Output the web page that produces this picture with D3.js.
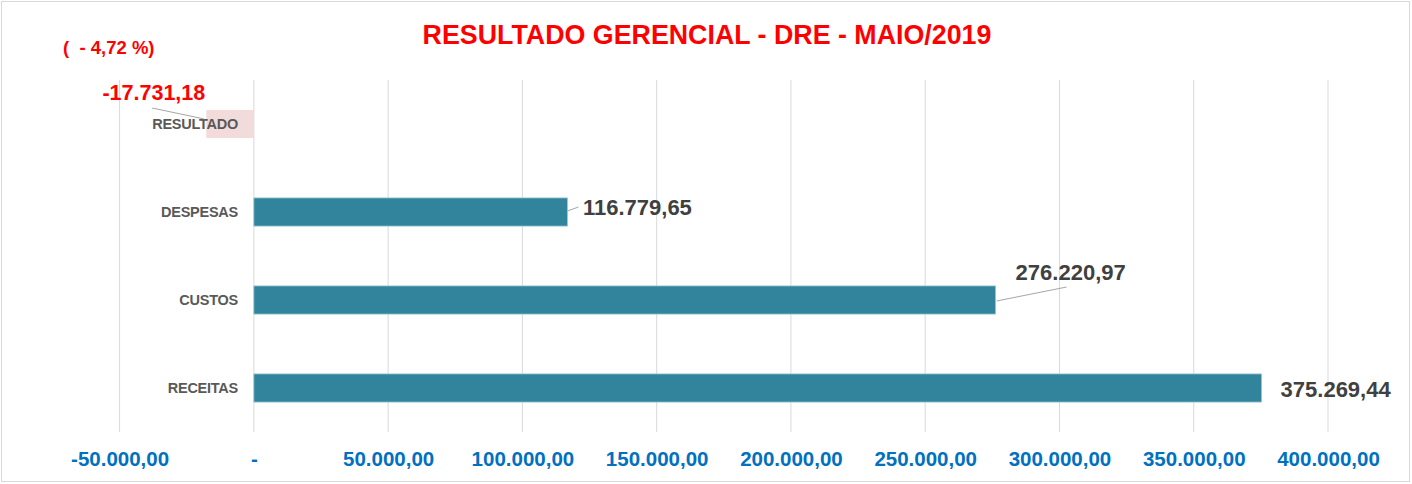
<!DOCTYPE html>
<html>
<head>
<meta charset="utf-8">
<script src="https://cdn.jsdelivr.net/npm/d3@7"></script>
<style>
  html, body { margin: 0; padding: 0; background: #fff; }
  svg { display: block; font-family: "Liberation Sans", Arial, sans-serif; }
</style>
</head>
<body>
<div id="chart"></div>
<script>
// Data
const categories = ["RESULTADO", "DESPESAS", "CUSTOS", "RECEITAS"];
const values = [-17731.18, 116779.65, 276220.97, 375269.44];
const tickValues = [-50000, 0, 50000, 100000, 150000, 200000, 250000, 300000, 350000, 400000];
const resultPercent = -4.72;
const titleText = "RESULTADO GERENCIAL - DRE - MAIO/2019";

const width = 1412, height = 484;

// pt-BR number format, plain hyphen for negatives
const br = d3.formatLocale({ decimal: ",", thousands: ".", grouping: [3], currency: ["R$", ""], minus: "-" });
const fmt = br.format(",.2f");

const svg = d3.select("#chart").append("svg")
    .attr("width", width)
    .attr("height", height);

// chart border
svg.append("rect")
    .attr("x", 1.5).attr("y", 1.5)
    .attr("width", width - 4).attr("height", height - 4)
    .attr("fill", "#fff")
    .attr("stroke", "#d9d9d9");

// scales
const x = d3.scaleLinear().domain([-50000, 400000]).range([119.6, 1328]);
const y = d3.scaleBand().domain(categories).range([80, 432])
    .paddingInner(0.68).paddingOuter(0.34);

// gridlines
svg.append("g").selectAll("line")
    .data(tickValues).enter().append("line")
    .attr("x1", d => x(d)).attr("x2", d => x(d))
    .attr("y1", 80).attr("y2", 432)
    .attr("stroke", "#d9d9d9").attr("stroke-width", 1);

// x axis tick labels
const xAxis = d3.axisBottom(x).tickValues(tickValues).tickSize(0)
    .tickFormat(d => d === 0 ? "-" : fmt(d));
const ax = svg.append("g").attr("transform", "translate(0,448)").call(xAxis);
ax.select(".domain").remove();
ax.selectAll("text")
    .attr("fill", "#0070c0")
    .attr("font-size", 20.5)
    .attr("font-weight", "bold")
    .attr("font-family", "'Liberation Sans', Arial, sans-serif");

// bars
const bars = categories.map((c, i) => ({ cat: c, value: values[i] }));
svg.append("g").selectAll("rect")
    .data(bars).enter().append("rect")
    .attr("x", d => x(Math.min(0, d.value)))
    .attr("y", d => y(d.cat))
    .attr("width", d => Math.abs(x(d.value) - x(0)))
    .attr("height", y.bandwidth())
    .attr("fill", d => d.value < 0 ? "#f2dcdb" : "#31849b")
    .attr("stroke", d => d.value < 0 ? "none" : "#9cc8d6")
    .attr("stroke-width", 0.8);

// category labels
svg.append("g").selectAll("text")
    .data(categories).enter().append("text")
    .attr("x", 238)
    .attr("y", d => y(d) + y.bandwidth() / 2)
    .attr("dy", "0.35em")
    .attr("text-anchor", "end")
    .attr("fill", "#595959")
    .attr("font-size", 14.5)
    .attr("font-weight", "bold")
    .attr("letter-spacing", -0.25)
    .text(d => d);

// data label placement (offsets from bar end / band centre, as in the original)
const labelOffsets = {
    RESULTADO: { dx: -1, dy: -32, anchor: "end", color: "#ff0000", size: 21.5, leader: [[-54, -16], [-2, -5]] },
    DESPESAS: { dx: 15.5, dy: -5, anchor: "start", color: "#404040", size: 22, leader: [[0, -1], [11, -5]] },
    CUSTOS: { dx: 20, dy: -28, anchor: "start", color: "#404040", size: 22, leader: [[1, 1], [71, -13]] },
    RECEITAS: { dx: 19, dy: 1, anchor: "start", color: "#404040", size: 22, leader: null }
};

const lab = svg.append("g");
bars.forEach(d => {
    const o = labelOffsets[d.cat];
    const bx = x(d.value), by = y(d.cat) + y.bandwidth() / 2;
    if (o.leader) {
        lab.append("line")
            .attr("x1", bx + o.leader[0][0]).attr("y1", by + o.leader[0][1])
            .attr("x2", bx + o.leader[1][0]).attr("y2", by + o.leader[1][1])
            .attr("stroke", "#a6a6a6").attr("stroke-width", 1);
    }
    lab.append("text")
        .attr("x", bx + o.dx)
        .attr("y", by + o.dy)
        .attr("dy", "0.35em")
        .attr("text-anchor", o.anchor)
        .attr("fill", o.color)
        .attr("font-size", o.size)
        .attr("font-weight", "bold")
        .text(fmt(d.value));
});

// percentage of result over revenue
svg.append("text")
    .attr("x", 63).attr("y", 48)
    .attr("dy", "0.35em")
    .attr("fill", "#ff0000")
    .attr("font-size", 18.5)
    .attr("font-weight", "bold")
    .attr("xml:space", "preserve")
    .text("(  - " + br.format(".2f")(Math.abs(resultPercent)) + " %)");

// title
svg.append("text")
    .attr("x", 707).attr("y", 35)
    .attr("dy", "0.35em")
    .attr("text-anchor", "middle")
    .attr("fill", "#ff0000")
    .attr("font-size", 26.8)
    .attr("font-weight", "bold")
    .text(titleText);
</script>
</body>
</html>
